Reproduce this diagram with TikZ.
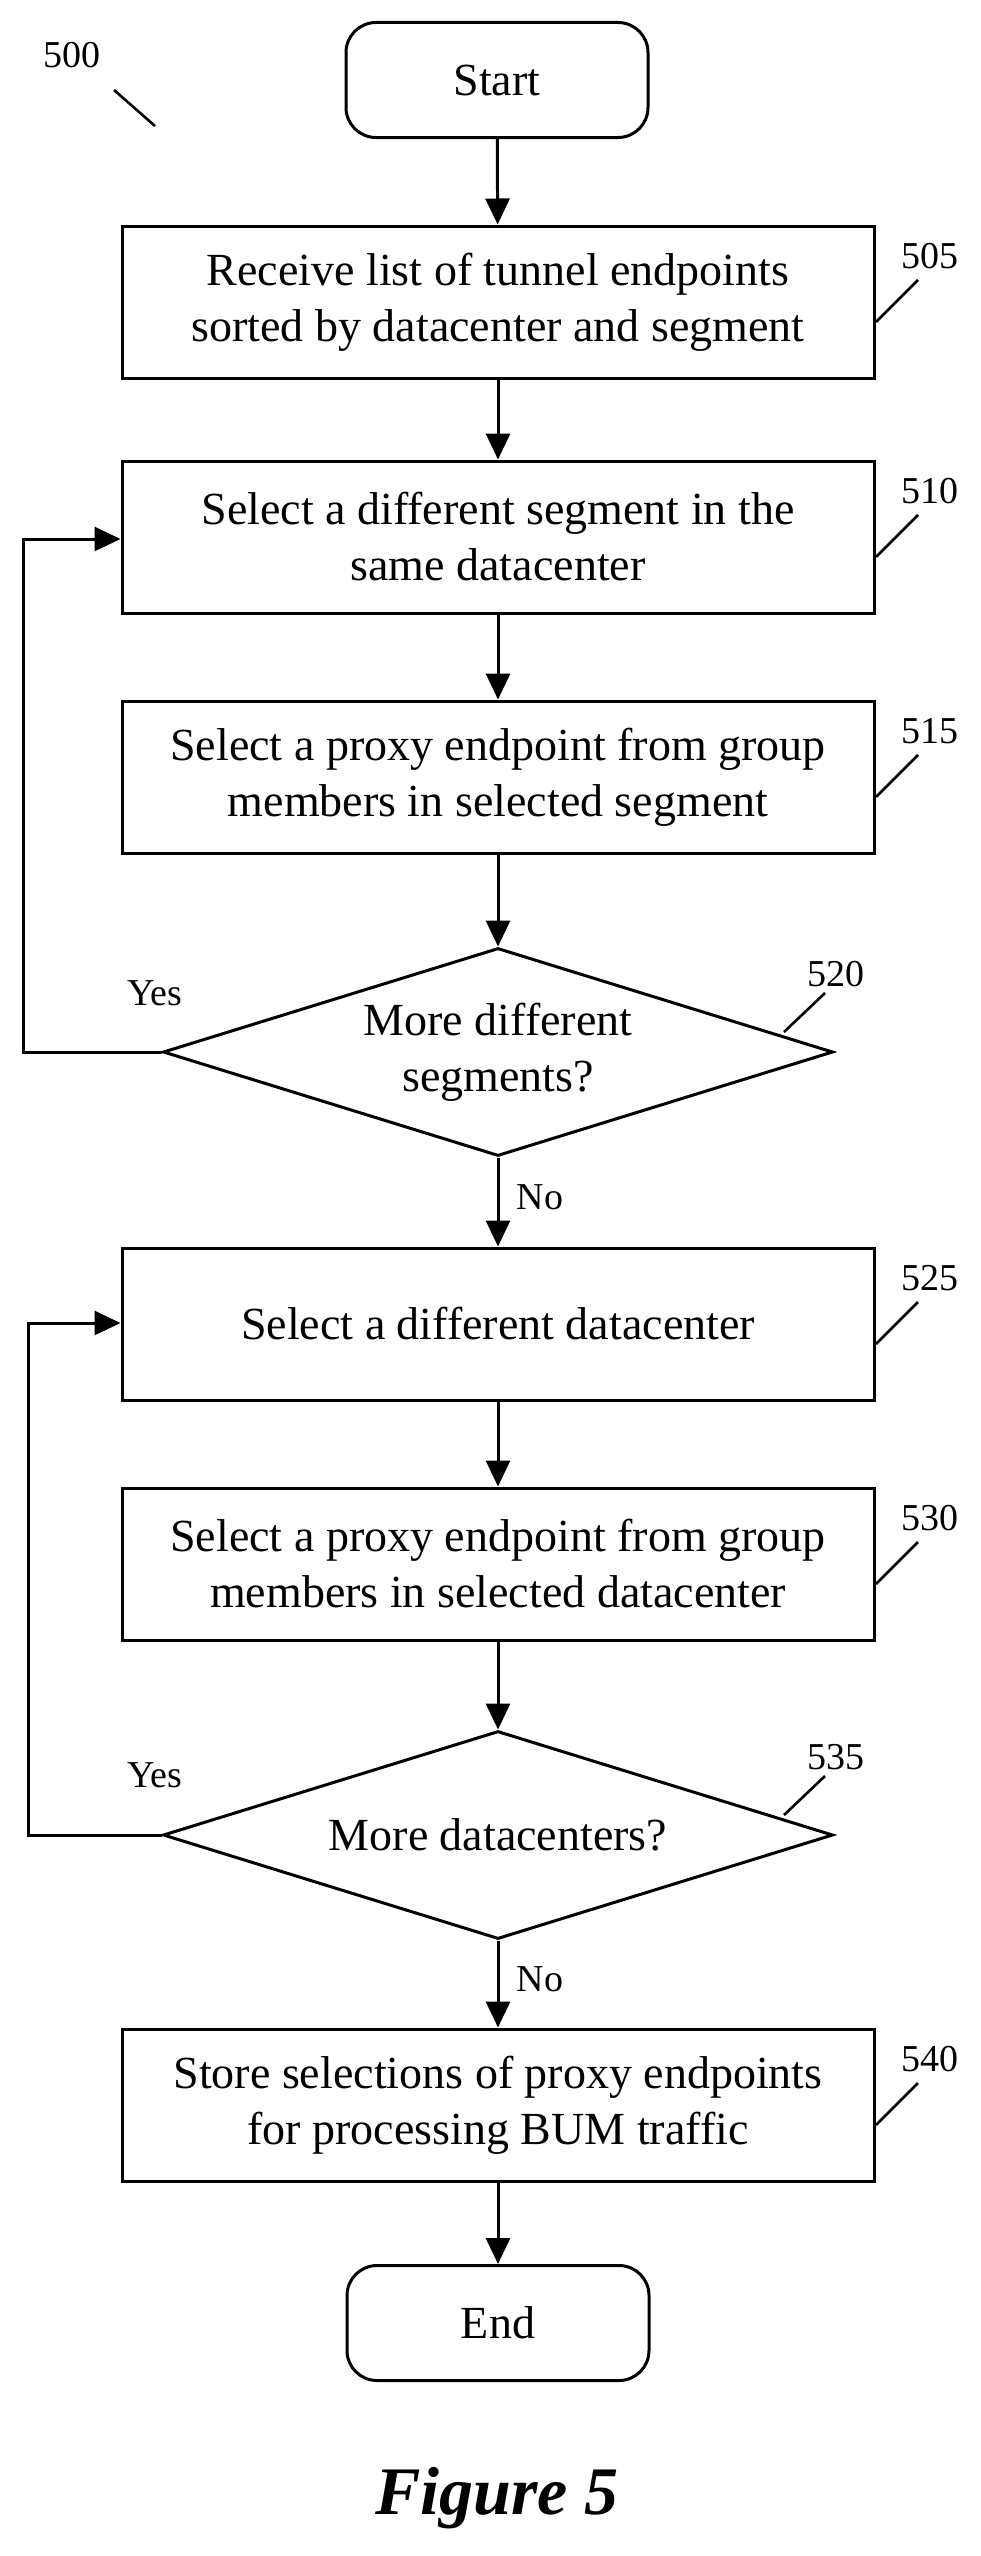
\documentclass[tikz,border=0pt]{standalone}
\usepackage{fontspec}
\setmainfont{Liberation Serif}
\usetikzlibrary{shapes.geometric,arrows.meta}
\begin{document}
\begin{tikzpicture}[x=1pt,y=-1pt,
  box/.style={draw,line width=3pt,minimum width=752pt,minimum height=152pt,align=center,font=\fontsize{46}{56}\selectfont},
  term/.style={draw,line width=3pt,rounded corners=30pt,minimum width=302pt,minimum height=115pt,font=\fontsize{46}{56}\selectfont},
  dia/.style={draw,line width=3pt,diamond,aspect=3.2,minimum width=670pt,minimum height=208pt,inner sep=0pt,align=center,font=\fontsize{46}{56}\selectfont},
  arr/.style={line width=3pt,-{Triangle[length=26pt,width=24pt]}},
  lead/.style={line width=2.6pt},
  lbl/.style={font=\fontsize{38}{44}\selectfont}]
\useasboundingbox (0,0) rectangle (980,2556);
\node[term] (start) at (497,80) {Start};
\node[box] (b505) at (498,302) {Receive list of tunnel endpoints\\sorted by datacenter and segment};
\node[box] (b510) at (498,537) {Select a different segment in the\\same datacenter};
\node[box] (b515) at (498,777) {Select a proxy endpoint from group\\members in selected segment};
\node[dia] (d520) at (498,1052) {More different\\segments?};
\node[box] (b525) at (498,1324) {Select a different datacenter};
\node[box] (b530) at (498,1564) {Select a proxy endpoint from group\\members in selected datacenter};
\node[dia] (d535) at (498,1835) {More datacenters?};
\node[box] (b540) at (498,2105) {Store selections of proxy endpoints\\for processing BUM traffic};
\node[term] (end) at (498,2323) {End};
\node[font=\fontsize{68}{76}\selectfont\bfseries\itshape] (fig) at (497,2498) {Figure 5};
\draw[arr] (start) -- (b505);
\draw[arr] (b505) -- (b510);
\draw[arr] (b510) -- (b515);
\draw[arr] (b515) -- (d520);
\draw[arr] (d520) -- (b525) node[pos=0.45,right=14pt,lbl] (no1) {No};
\draw[arr] (b525) -- (b530);
\draw[arr] (b530) -- (d535);
\draw[arr] (d535) -- (b540) node[pos=0.45,right=14pt,lbl] (no2) {No};
\draw[arr] (b540) -- (end);
\coordinate (l1a) at (23,1052); \coordinate (l1b) at (23,539);
\draw[arr] (d520.west) -- (l1a) -- (l1b) -- (l1b -| b510.west);
\coordinate (l2a) at (28,1835); \coordinate (l2b) at (28,1323);
\draw[arr] (d535.west) -- (l2a) -- (l2b) -- (l2b -| b525.west);
\node[lbl] (y1) at (155,993) {Yes};
\node[lbl] (y2) at (155,1775) {Yes};
\node[lbl] (n500) at (72,55) {500};
\coordinate (a500) at (114,90); \coordinate (b500) at (155,126);
\draw[lead] (a500) -- (b500);
\foreach \n/\y in {505/302,510/537,515/777,525/1324,530/1564,540/2105}{
  \coordinate (p\n) at (876,\y+20); \coordinate (q\n) at (918,\y-22);
  \draw[lead] (p\n) -- (q\n);
  \node[lbl,anchor=south west] (t\n) at (898,\y-30) {\n};
}
\foreach \n/\y in {520/1052,535/1835}{
  \coordinate (p\n) at (784,\y-20); \coordinate (q\n) at (825,\y-59);
  \draw[lead] (p\n) -- (q\n);
  \node[lbl,anchor=south west] (t\n) at (804,\y-62) {\n};
}
\end{tikzpicture}
\end{document}
